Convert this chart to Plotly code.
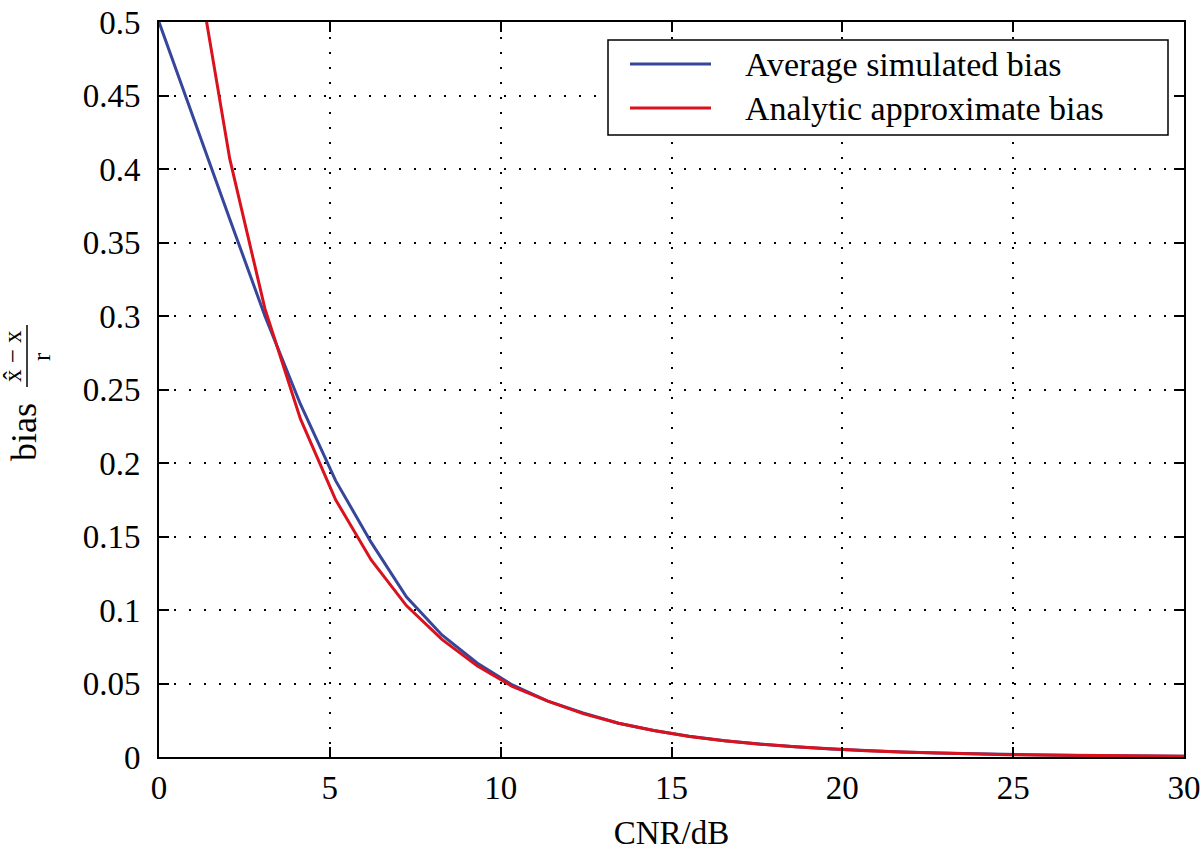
import plotly.graph_objects as go

# CNR in dB, 30 samples from 0 to 30
cnr_db = [0, 1.03, 2.07, 3.10, 4.14, 5.17, 6.21, 7.24, 8.28, 9.31,
          10.34, 11.38, 12.41, 13.45, 14.48, 15.52, 16.55, 17.59, 18.62, 19.66,
          20.69, 21.72, 22.76, 23.79, 24.83, 25.86, 26.90, 27.93, 28.97, 30.0]

sim_bias = [0.500, 0.433, 0.366, 0.300, 0.240, 0.188, 0.146, 0.109, 0.083, 0.064,
            0.049, 0.038, 0.030, 0.023, 0.018, 0.0141, 0.0111, 0.0088, 0.0069, 0.0055,
            0.0043, 0.0034, 0.0027, 0.0021, 0.0017, 0.0013, 0.0010, 0.0008, 0.0006, 0.0005]

ana_bias = [0.750, 0.550, 0.407, 0.305, 0.230, 0.175, 0.134, 0.103, 0.080, 0.062,
            0.048, 0.038, 0.0295, 0.023, 0.018, 0.0140, 0.0111, 0.0087, 0.0069, 0.0054,
            0.0043, 0.0034, 0.0027, 0.0021, 0.0016, 0.0013, 0.0010, 0.0008, 0.0006, 0.0005]

series_names = ["Average simulated bias", "Analytic approximate bias"]
series_colors = ["#36469A", "#DA121E"]

x_ticks = [0, 5, 10, 15, 20, 25, 30]
y_ticks = [0, 0.05, 0.1, 0.15, 0.2, 0.25, 0.3, 0.35, 0.4, 0.45, 0.5]

FONT = "Liberation Serif, Times New Roman, Times, serif"

fig = go.Figure()
for yv, nm, col in zip([sim_bias, ana_bias], series_names, series_colors):
    fig.add_trace(go.Scatter(x=cnr_db, y=yv, mode="lines", name=nm,
                             line=dict(color=col, width=3), showlegend=False))

axis_common = dict(showline=True, linecolor="black", linewidth=2, mirror="ticks",
                   ticks="inside", ticklen=10, tickwidth=2, tickcolor="black",
                   showgrid=True, gridcolor="black", gridwidth=1.5, griddash="2px,13px",
                   zeroline=False, ticklabeloverflow="allow",
                   tickfont=dict(family=FONT, size=33, color="black"))

fig.update_xaxes(range=[0, 30], tickvals=x_ticks,
                 title=dict(text="CNR/dB", font=dict(family=FONT, size=33, color="black"),
                            standoff=16),
                 **axis_common)
fig.update_yaxes(range=[0, 0.5], tickvals=y_ticks, ticklabelstandoff=10, **axis_common)

fig.update_layout(
    width=1200, height=862,
    margin=dict(l=159, r=16, t=22, b=105, autoexpand=False),
    plot_bgcolor="white", paper_bgcolor="white",
    font=dict(family=FONT, color="black"),
    showlegend=False,
)

def px_x(p):
    return (p - 159) / 1025

def px_y(p):
    return (757 - p) / 735

# legend box drawn by hand (MATLAB style: long sample lines, wide box)
fig.add_shape(type="rect", xref="paper", yref="paper",
              x0=px_x(608), x1=px_x(1168), y0=px_y(135), y1=px_y(40),
              line=dict(color="black", width=1.5), fillcolor="white", layer="above")
for i, (nm, col) in enumerate(zip(series_names, series_colors)):
    ry = 64 + i * 44
    fig.add_shape(type="line", xref="paper", yref="paper",
                  x0=px_x(630), x1=px_x(711), y0=px_y(ry), y1=px_y(ry),
                  line=dict(color=col, width=3), layer="above")
    fig.add_annotation(text=nm, x=px_x(743), y=px_y(ry), xref="paper", yref="paper",
                       showarrow=False, xanchor="left", yanchor="middle",
                       font=dict(family=FONT, size=34, color="black"))

# y-axis title built by hand: "bias" plus a stacked fraction (x̂ − x)/r
fig.add_annotation(text="bias", x=px_x(24), y=px_y(432), xref="paper", yref="paper",
                   textangle=-90, showarrow=False, xanchor="center", yanchor="middle",
                   font=dict(family=FONT, size=36, color="black"))
fig.add_annotation(text="x\u0302 \u2212 x", x=px_x(12), y=px_y(356), xref="paper", yref="paper",
                   textangle=-90, showarrow=False, xanchor="center", yanchor="middle",
                   font=dict(family=FONT, size=25, color="black"))
fig.add_annotation(text="r", x=px_x(42), y=px_y(357), xref="paper", yref="paper",
                   textangle=-90, showarrow=False, xanchor="center", yanchor="middle",
                   font=dict(family=FONT, size=25, color="black"))
fig.add_shape(type="line", xref="paper", yref="paper",
              x0=px_x(27), x1=px_x(27), y0=px_y(325), y1=px_y(387),
              line=dict(color="black", width=1.5))

fig.write_html("out.html", config={"displayModeBar": False},
               post_script="document.body.style.margin='0px';document.body.style.overflow='hidden';")
